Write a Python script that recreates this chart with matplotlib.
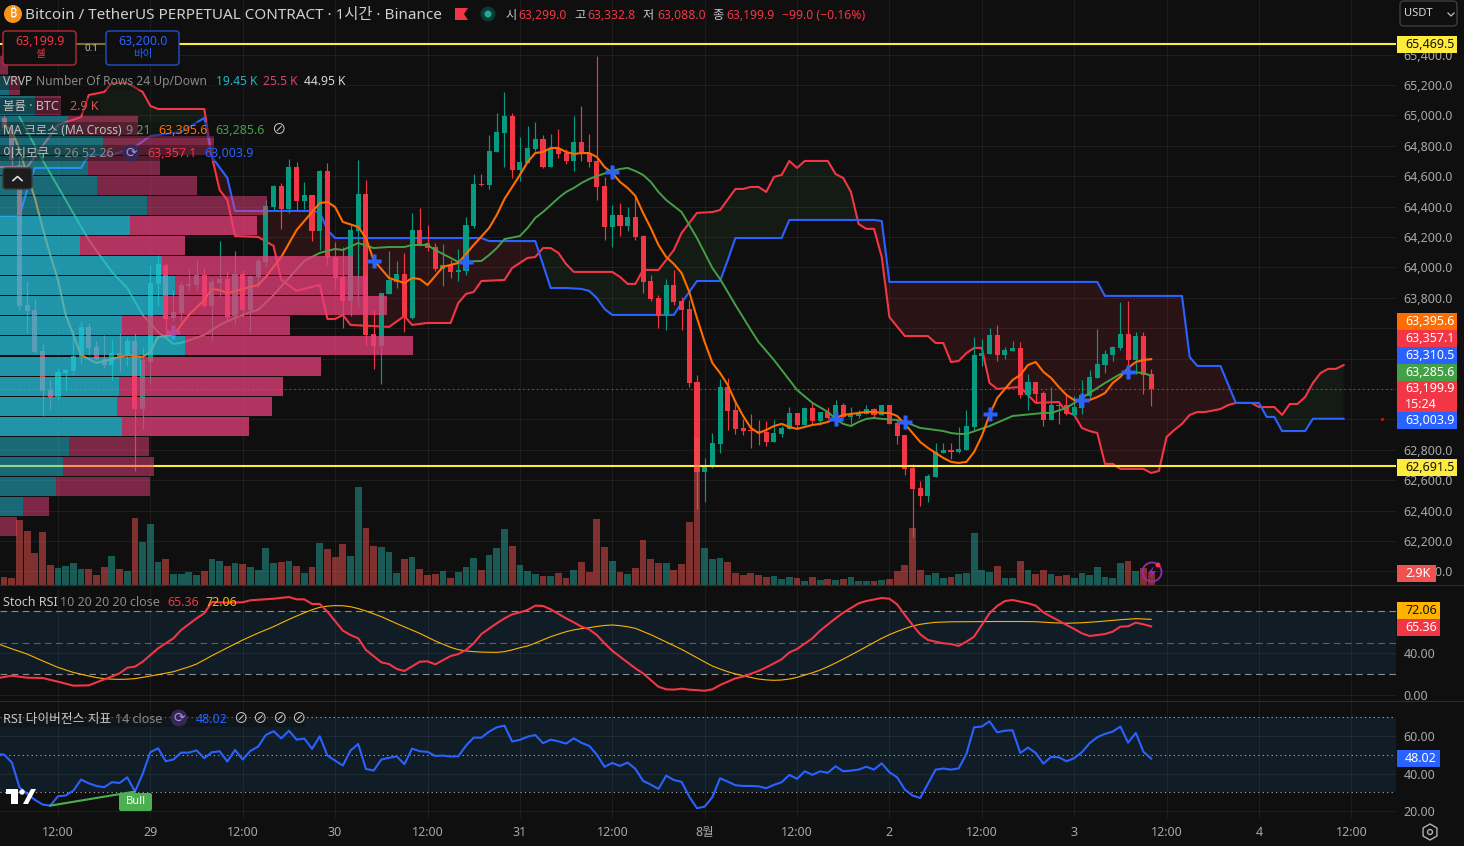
"""Bitcoin perpetual 1h chart with Ichimoku, MA cross, VRVP, Stoch RSI and RSI panes."""

import matplotlib

matplotlib.use("Agg")

import matplotlib.pyplot as plt
import numpy as np
from matplotlib.patches import Circle, FancyBboxPatch, Polygon, Rectangle, RegularPolygon

plt.rcParams["font.family"] = ["Noto Sans", "Noto Sans CJK KR", "DejaVu Sans"]

W, H = 1464, 846
BG = "#0f0f0f"
RED = "#F23645"
GREEN = "#089981"
BLUE = "#2962FF"
ORANGE = "#FF6D00"
LIME = "#43A047"
AMBER = "#FFB300"
YELLOW = "#FFEB3B"
GREY = "#8a8a8a"
TICK = "#a8a8a8"

first_bar = -7
opens = [
    64983, 64904, 64674, 63752, 63720, 63450, 63193, 63147, 63305, 63318,
    63410, 63608, 63476, 63397, 63358, 63436, 63430, 63516, 63068, 63377,
    63890, 64016, 63667, 63700, 63877, 63884, 63950, 63746, 63897, 63923,
    63680, 63956, 63720, 63937, 64035, 64397, 64535, 64384, 64660, 64437,
    64476, 64239, 64634, 64068, 63937, 63779, 64239, 64483, 63562, 63483,
    63825, 63904, 63956, 63667, 64246, 64160, 64134, 63989, 64016, 63970,
    63976, 64272, 64545, 64542, 64759, 64884, 64996, 64641, 64687, 64779,
    64844, 64660, 64779, 64752, 64700, 64825, 64752, 64700, 64535, 64266,
    64345, 64272, 64331, 64206, 63910, 63798, 63680, 63884, 63779, 63726,
    63246, 62654, 62687, 62838, 63213, 63062, 62943, 62930, 62923, 62917,
    62851, 62904, 62937, 63042, 62963, 63075, 62989, 63049, 63009, 63094,
    63016, 63022, 63035, 63068, 63029, 63094, 62976, 62897, 62680, 62548,
    62496, 62621, 62779, 62798, 62785, 62798, 62950, 63417, 63430, 63555,
    63423, 63450, 63470, 63160, 63246, 63173, 62996, 63094, 63094, 63029,
    63075, 63153, 63272, 63358, 63423, 63470, 63562, 63391, 63549, 63299.0,
]
closes = [
    64917, 64706, 63746, 63713, 63443, 63187, 63147, 63312, 63325, 63417,
    63608, 63470, 63397, 63358, 63436, 63417, 63516, 63068, 63391, 63897,
    64022, 63660, 63706, 63884, 63890, 63950, 63746, 63904, 63923, 63673,
    63956, 63720, 63943, 64042, 64404, 64535, 64384, 64660, 64437, 64476,
    64239, 64634, 64068, 63930, 63779, 64246, 64483, 63555, 63483, 63831,
    63917, 63956, 63673, 64246, 64154, 64127, 63989, 64016, 63970, 63983,
    64279, 64549, 64539, 64766, 64891, 64996, 64641, 64693, 64785, 64844,
    64660, 64779, 64746, 64700, 64825, 64746, 64693, 64529, 64266, 64345,
    64272, 64331, 64200, 63904, 63792, 63680, 63884, 63772, 63720, 63239,
    62654, 62693, 62844, 63213, 63055, 62937, 62923, 62923, 62910, 62851,
    62910, 62943, 63042, 62963, 63075, 62989, 63049, 63009, 63094, 63016,
    63029, 63042, 63068, 63029, 63094, 62970, 62891, 62673, 62542, 62496,
    62627, 62785, 62798, 62785, 62805, 62956, 63423, 63436, 63555, 63423,
    63456, 63470, 63160, 63246, 63167, 62996, 63094, 63088, 63035, 63081,
    63160, 63279, 63364, 63430, 63476, 63562, 63391, 63549, 63292, 63199.9,
]
highs = [
    65003, 64937, 64726, 63904, 63792, 63496, 63265, 63338, 63332, 63588,
    63641, 63634, 63516, 63555, 63529, 63568, 63542, 63568, 63470, 64016,
    64081, 64029, 63851, 63904, 63989, 64048, 63996, 63930, 64174, 63976,
    64108, 63983, 63950, 64062, 64443, 64542, 64555, 64713, 64693, 64562,
    64476, 64641, 64687, 64167, 64134, 64279, 64706, 64575, 63720, 63831,
    64108, 64042, 64095, 64358, 64391, 64279, 64160, 64154, 64048, 64121,
    64331, 64615, 64615, 64871, 65016, 65154, 65016, 64858, 64930, 64957,
    64871, 64877, 64910, 64779, 64996, 65062, 64877, 65391, 64594, 64410,
    64423, 64397, 64470, 64213, 63950, 63818, 63923, 63983, 63805, 63785,
    63292, 62746, 62910, 63265, 63272, 63127, 63003, 63035, 62996, 62989,
    62996, 62956, 63081, 63042, 63075, 63114, 63049, 63081, 63127, 63108,
    63081, 63062, 63094, 63075, 63094, 63094, 63003, 62897, 62706, 62594,
    62640, 62844, 62844, 62844, 62950, 63062, 63542, 63529, 63601, 63621,
    63476, 63516, 63509, 63299, 63246, 63187, 63213, 63108, 63160, 63153,
    63259, 63325, 63595, 63456, 63483, 63772, 63779, 63575, 63575, 63332.8,
]
lows = [
    64871, 64641, 63720, 63568, 63436, 63022, 63068, 63127, 63187, 63292,
    63364, 63423, 63391, 63338, 63259, 63318, 63351, 62660, 62937, 63233,
    63746, 63542, 63647, 63647, 63851, 63851, 63739, 63522, 63805, 63654,
    63628, 63673, 63568, 63871, 64003, 64377, 64253, 64357, 64377, 64384,
    64174, 64114, 64016, 63858, 63601, 63680, 63739, 63483, 63332, 63233,
    63825, 63864, 63575, 63660, 64141, 64108, 63976, 63877, 63930, 63910,
    63950, 64259, 64535, 64516, 64759, 64660, 64588, 64568, 64687, 64766,
    64654, 64660, 64720, 64680, 64634, 64700, 64660, 64443, 64180, 64134,
    64207, 64239, 64180, 63831, 63779, 63601, 63588, 63752, 63588, 63213,
    62410, 62456, 62680, 62779, 62930, 62904, 62897, 62812, 62831, 62825,
    62851, 62884, 62937, 62943, 62963, 62970, 62963, 63003, 62996, 63009,
    62963, 63009, 63035, 63009, 63029, 62970, 62838, 62634, 62226, 62430,
    62456, 62621, 62779, 62739, 62779, 62798, 62923, 63351, 63430, 63384,
    63397, 63450, 63140, 63062, 63108, 62956, 62996, 62970, 63029, 63022,
    63035, 63140, 63272, 63305, 63384, 63456, 63338, 63299, 63167, 63088.0,
]
# volume per bar, thousands of BTC
volumes = [
    1.9, 1.7, 15.6, 13.0, 7.7, 12.7, 4.8, 4.1, 4.6, 5.3,
    3.8, 3.8, 2.4, 4.3, 7.0, 3.8, 3.4, 16.1, 10.3, 14.6,
    5.5, 6.2, 2.6, 2.6, 3.1, 2.4, 3.4, 6.2, 5.8, 4.6,
    5.3, 5.0, 4.3, 3.6, 8.9, 5.3, 5.5, 5.8, 4.6, 2.9,
    4.3, 10.1, 8.6, 6.7, 9.8, 7.0, 23.5, 13.7, 9.4, 9.1,
    7.9, 2.9, 6.2, 6.7, 3.8, 2.4, 2.6, 3.4, 1.7, 3.1,
    4.3, 6.5, 3.6, 7.2, 8.9, 13.4, 9.4, 4.8, 3.4, 2.6,
    2.2, 2.2, 2.9, 1.7, 3.6, 5.5, 3.1, 15.8, 9.1, 5.8,
    3.1, 2.6, 4.1, 10.8, 6.2, 5.3, 5.3, 3.6, 5.0, 15.1,
    35.3, 8.9, 6.2, 6.5, 5.5, 2.9, 2.4, 2.9, 2.4, 1.9,
    2.2, 1.4, 1.9, 1.7, 1.0, 1.9, 1.2, 1.4, 1.2, 1.4,
    1.9, 1.0, 1.0, 1.0, 1.2, 1.4, 3.4, 4.8, 13.7, 3.6,
    2.4, 2.9, 1.7, 1.9, 2.6, 2.9, 12.5, 3.6, 3.1, 4.6,
    1.7, 1.7, 5.8, 3.6, 2.6, 3.6, 2.6, 2.2, 2.4, 1.7,
    2.9, 2.4, 4.3, 1.9, 1.7, 5.3, 5.8, 3.4, 4.1, 2.9,
]

ma9_bars = [
    -7, -6, -5, -4, -3, -2, -1, 0, 1, 3, 5, 7, 9, 11, 12, 13, 15, 17, 19, 20, 21, 22, 25, 26, 27,
    29, 31, 34, 35, 36, 37, 39, 40, 41, 43, 45, 46, 47, 48, 50, 52, 54, 56, 57, 58, 59, 60, 61,
    62, 63, 64, 65, 66, 67, 68, 69, 70, 71, 72, 73, 74, 75, 76, 77, 78, 79, 80, 81, 82, 83, 84,
    85, 86, 87, 88, 89, 90, 91, 92, 93, 94, 95, 96, 97, 98, 99, 100, 101, 102, 103, 104, 105,
    106, 107, 108, 109, 110, 111, 112, 113, 114, 115, 116, 117, 118, 119, 120, 121, 122, 123,
    124, 125, 126, 127, 128, 129, 130, 131, 132, 133, 134, 135, 136, 137, 138, 139, 140, 141, 142,
]
ma9_vals = [
    64937, 64904, 64772, 64608, 64456, 64259, 64081, 63917, 63687, 63423, 63371, 63397, 63423,
    63410, 63443, 63542, 63555, 63687, 63785, 63858, 63851, 63831, 63871, 63884, 63937, 64068,
    64246, 64423, 64430, 64397, 64299, 64266, 64193, 64048, 63930, 63897, 63930, 63923, 63884,
    64003, 64029, 64147, 64259, 64345, 64450, 64529, 64608, 64693, 64752, 64759, 64785, 64785,
    64759, 64746, 64752, 64752, 64726, 64660, 64621, 64562, 64522, 64470, 64358, 64259, 64147,
    64068, 64022, 63963, 63838, 63667, 63509, 63371, 63305, 63226, 63114, 63022, 62943, 62910,
    62930, 62956, 62970, 62950, 62937, 62950, 62963, 62970, 62983, 63009, 63029, 63035, 63042,
    63049, 63049, 63042, 63042, 63022, 62970, 62910, 62851, 62812, 62779, 62746, 62720, 62713,
    62720, 62785, 62891, 63029, 63140, 63200, 63259, 63292, 63358, 63377, 63312, 63272, 63213,
    63160, 63127, 63127, 63127, 63147, 63173, 63239, 63279, 63338, 63377, 63391, 63395.6,
]
ma21_bars = [
    -5, -2, 1, 4, 7, 9, 11, 13, 15, 16, 19, 21, 23, 25, 26, 28, 30, 32, 34, 36, 37, 39, 41, 43,
    45, 46, 48, 49, 51, 52, 55, 56, 57, 58, 60, 61, 62, 63, 65, 66, 67, 68, 69, 70, 72, 73, 74,
    75, 76, 77, 78, 79, 81, 82, 83, 85, 86, 87, 88, 90, 91, 93, 96, 98, 100, 101, 102, 103, 104,
    105, 106, 107, 109, 110, 111, 112, 113, 115, 116, 117, 118, 121, 124, 128, 129, 131, 132,
    134, 136, 138, 139, 141, 142,
]
ma21_vals = [
    64989, 64706, 64443, 64180, 63970, 63864, 63687, 63575, 63496, 63503, 63555, 63621, 63667,
    63706, 63720, 63818, 63930, 64042, 64095, 64121, 64114, 64160, 64127, 64134, 64134, 64147,
    64147, 64114, 64062, 64035, 64042, 64081, 64127, 64186, 64206, 64259, 64325, 64364, 64456,
    64496, 64522, 64555, 64581, 64601, 64634, 64647, 64654, 64634, 64608, 64562, 64496, 64443,
    64364, 64279, 64193, 63996, 63923, 63838, 63752, 63588, 63509, 63391, 63193, 63108, 63049,
    63003, 62970, 62956, 62983, 63003, 63009, 63003, 62996, 62983, 62963, 62943, 62937, 62923,
    62910, 62904, 62904, 62956, 63022, 63042, 63042, 63075, 63108, 63173, 63239, 63298, 63312,
    63305, 63285.6,
]
span_a_bars = [
    -8, -4, 0, 3, 4, 6, 7, 9, 11, 12, 13, 19, 20, 21, 22, 23, 26, 28, 29, 31, 34, 35, 36, 37, 38,
    43, 45, 46, 48, 51, 52, 53, 54, 55, 58, 59, 61, 62, 63, 64, 65, 66, 67, 72, 73, 74, 75, 76,
    78, 80, 81, 83, 85, 86, 88, 89, 90, 91, 92, 93, 94, 95, 96, 97, 100, 101, 102, 103, 104, 105,
    106, 107, 108, 110, 113, 114, 115, 116, 117, 118, 119, 120, 121, 122, 125, 126, 127, 130,
    131, 132, 133, 134, 135, 136, 137, 138, 141, 142, 143, 144, 145, 146, 147, 148, 149, 151,
    152, 153, 155, 156, 158, 159, 160, 161, 162, 163, 164, 165, 166, 167,
]
span_a_vals = [
    64660, 64660, 64937, 64989, 65134, 65154, 65213, 65213, 65154, 65062, 65042, 65042, 64726,
    64509, 64443, 64206, 64200, 64141, 63917, 63845, 63884, 63660, 63660, 63687, 63621, 63608,
    63680, 63621, 63634, 63634, 63766, 63825, 63838, 63910, 63917, 63996, 64062, 64068, 64127,
    64127, 64095, 64022, 63970, 63970, 63937, 63891, 63891, 63983, 63983, 64114, 64226, 64358,
    64364, 64377, 64516, 64516, 64529, 64529, 64496, 64595, 64608, 64700, 64654, 64700, 64700,
    64614, 64588, 64496, 64285, 64253, 64253, 64068, 63673, 63548, 63548, 63502, 63502, 63377,
    63384, 63436, 63470, 63470, 63239, 63200, 63213, 63160, 63108, 63114, 63048, 63029, 62943,
    62923, 62910, 62707, 62707, 62674, 62674, 62647, 62660, 62884, 62930, 62970, 63029, 63048,
    63048, 63068, 63094, 63108, 63108, 63081, 63081, 63029, 63101, 63101, 63147, 63239, 63305,
    63332, 63332, 63357.1,
]
span_b_bars = [
    -8, -5, -4, -3, 3, 4, 7, 10, 12, 16, 19, 20, 22, 23, 33, 34, 35, 36, 55, 56, 62, 64, 66, 68,
    69, 70, 71, 72, 80, 81, 83, 86, 87, 88, 94, 95, 106, 107, 108, 135, 136, 146, 147, 148, 151,
    153, 156, 157, 158, 159, 162, 163, 167,
]
span_b_vals = [
    64338, 64338, 64509, 64654, 64654, 64739, 64739, 64792, 64864, 64891, 64983, 64726, 64588,
    64371, 64371, 64364, 64246, 64193, 64193, 64173, 64173, 63864, 63864, 63858, 63845, 63798,
    63726, 63687, 63687, 63766, 63910, 63910, 64048, 64193, 64193, 64312, 64312, 64305, 63904,
    63904, 63812, 63812, 63410, 63351, 63351, 63108, 63108, 63016, 63016, 62923, 62923, 63003.9,
    63003.9,
]
cross_bars = [15, 41, 53, 72, 101, 110, 121, 133, 139]
cross_prices = [63575, 64040, 64035, 64625, 63003, 62983, 63035, 63127, 63312]

# visible range profile, top row first, thousands of BTC
vp_top = 65397
vp_step = 131.8
vp_up = [
    0, 0.08, 0.32, 0.62, 0.93, 0.80, 0.88, 1.33, 1.18, 0.73, 1.47, 1.59,
    1.48, 1.11, 1.68, 1.28, 1.08, 1.06, 1.11, 0.63, 0.57, 0.51, 0.21, 0,
]
vp_down = [
    0.07, 0.10, 0.23, 0.63, 1.01, 0.65, 0.91, 1.09, 1.15, 0.95, 1.73, 1.75,
    2.03, 1.52, 2.07, 1.63, 1.49, 1.41, 1.15, 0.72, 0.83, 0.85, 0.23, 0.15,
]
vp_in_value_area = [
    0, 0, 0, 0, 0, 0, 0, 0, 1, 1, 1, 1,
    1, 1, 1, 1, 1, 1, 1, 0, 0, 0, 0, 0,
]

stoch_k_bars = [
    -8, -6, -4, -2, 0, 2, 4, 6, 8, 9, 10, 11, 13, 15, 16, 18, 19, 20, 22, 24, 25, 28, 30, 31, 32,
    33, 34, 35, 37, 38, 39, 40, 42, 43, 44, 45, 47, 48, 49, 51, 52, 53, 54, 55, 57, 58, 59, 60,
    61, 62, 63, 64, 66, 67, 68, 69, 70, 71, 72, 73, 75, 76, 78, 79, 80, 81, 82, 84, 85, 86, 88,
    89, 91, 92, 94, 95, 96, 98, 99, 101, 102, 104, 105, 107, 108, 109, 110, 111, 112, 113, 114,
    115, 116, 117, 118, 119, 120, 121, 122, 123, 124, 125, 126, 127, 128, 129, 130, 131, 132,
    133, 134, 135, 136, 137, 138, 139, 140, 141, 142,
]
stoch_k_vals = [
    15.9, 18.4, 16.5, 16.2, 12.7, 8.9, 9.2, 14.9, 20.6, 26.0, 27.0, 31.7, 44.4, 54.0, 61.9, 73.0,
    77.8, 88.6, 87.9, 88.3, 90.2, 91.7, 93.3, 91.1, 91.1, 86.7, 86.7, 79.4, 61.3, 57.1, 54.0, 42.9,
    31.1, 29.5, 24.8, 22.9, 31.7, 32.1, 29.2, 37.1, 39.0, 42.9, 49.2, 58.1, 68.3, 73.0, 76.8, 78.7,
    81.0, 85.1, 84.8, 81.6, 73.0, 69.2, 65.1, 62.5, 57.1, 49.2, 42.2, 36.5, 25.4, 20.6, 7.9, 5.4,
    5.1, 6.0, 5.1, 4.1, 5.4, 9.5, 15.9, 17.5, 22.9, 26.3, 34.0, 40.6, 43.8, 54.0, 61.3, 73.0, 78.4,
    87.3, 89.5, 92.4, 91.7, 86.3, 76.2, 66.7, 57.8, 52.4, 50.8, 49.2, 48.6, 46.7, 50.8, 55.6, 66.7,
    77.8, 84.8, 89.5, 90.5, 88.9, 87.3, 85.1, 78.7, 74.6, 70.8, 66.7, 62.9, 58.7, 56.2, 57.1, 58.1,
    60.3, 65.1, 65.4, 68.9, 67.3, 65.36,
]
stoch_d_bars = [
    -8, -6, -4, -2, 0, 2, 4, 5, 6, 7, 8, 9, 10, 12, 13, 15, 17, 18, 20, 22, 24, 26, 28, 30, 31, 32,
    33, 34, 35, 36, 37, 38, 39, 40, 42, 44, 47, 49, 51, 52, 53, 54, 55, 56, 57, 58, 59, 60, 61, 62,
    63, 64, 65, 66, 67, 68, 69, 70, 71, 72, 73, 74, 75, 76, 77, 78, 79, 80, 81, 82, 83, 84, 85, 86,
    87, 88, 89, 90, 91, 92, 93, 94, 95, 96, 97, 98, 99, 100, 101, 102, 103, 104, 105, 106, 107, 108,
    109, 110, 111, 112, 113, 114, 116, 118, 120, 122, 125, 127, 129, 131, 133, 135, 138, 140, 142,
]
stoch_d_vals = [
    49.2, 44.0, 39.0, 32.5, 26.3, 21.5, 18.1, 16.6, 15.6, 15.1, 14.9, 15.1, 15.6, 18.1, 19.4, 22.2,
    26.8, 29.5, 37.5, 45.0, 52.4, 59.0, 65.1, 72.0, 75.2, 78.3, 81.2, 83.5, 84.6, 85.1, 85.0, 84.1,
    82.3, 80.0, 74.6, 68.0, 58.7, 51.5, 45.4, 43.2, 42.0, 41.3, 40.9, 40.7, 40.6, 41.3, 43.0, 45.0,
    46.7, 49.5, 52.5, 55.5, 58.0, 60.3, 62.0, 63.2, 64.1, 65.3, 66.2, 66.7, 66.0, 65.0, 63.5, 60.5,
    57.5, 54.0, 50.5, 47.0, 43.5, 39.5, 35.5, 31.5, 27.6, 24.8, 22.2, 20.1, 18.4, 16.7, 15.2, 14.4,
    14.0, 14.3, 15.2, 16.8, 19.0, 21.2, 23.8, 27.0, 30.5, 34.2, 38.1, 42.0, 46.0, 50.0, 54.0, 57.5,
    60.5, 63.2, 65.7, 67.3, 68.4, 69.2, 69.7, 69.8, 69.9, 70.0, 70.0, 69.8, 68.9, 68.3, 68.8, 69.8,
    71.7, 72.7, 72.06,
]
rsi_first_bar = -8
rsi_vals = [
    50.5, 50.1, 46.0, 32.7, 29.2, 26.0, 23.5, 22.9, 27.9, 28.3, 30.9, 36.8, 34.8, 33.4, 32.7, 35.4,
    35.0, 38.0, 30.4, 39.8, 51.4, 53.5, 46.6, 47.5, 51.2, 51.2, 52.4, 48.2, 51.4, 51.9, 46.4, 52.6,
    47.5, 52.1, 54.4, 60.6, 62.6, 58.8, 62.9, 58.1, 58.7, 53.2, 59.9, 49.6, 46.9, 44.3, 52.3, 55.8,
    42.5, 41.6, 47.5, 48.4, 49.2, 45.0, 53.3, 51.9, 51.6, 49.4, 49.6, 49.1, 49.2, 54.9, 59.2, 59.2,
    62.4, 64.7, 65.6, 57.1, 58.0, 59.7, 60.6, 56.2, 58.1, 57.2, 56.0, 58.8, 56.4, 54.8, 50.1, 43.6,
    45.7, 44.1, 45.9, 42.5, 36.1, 34.1, 31.8, 38.9, 36.6, 35.6, 27.7, 21.5, 22.4, 27.4, 37.5, 35.7,
    33.8, 33.4, 33.4, 33.2, 32.2, 34.0, 35.4, 39.3, 37.2, 41.2, 39.3, 41.2, 40.4, 43.9, 41.2, 41.6,
    42.1, 43.7, 42.1, 45.5, 40.7, 38.0, 31.5, 28.3, 27.0, 34.5, 42.1, 42.7, 42.1, 42.8, 50.5, 64.7,
    65.1, 67.9, 62.0, 62.9, 63.1, 51.0, 53.9, 51.0, 45.3, 48.9, 48.7, 46.6, 48.2, 51.4, 56.2, 59.4,
    61.2, 62.4, 65.1, 56.5, 61.7, 51.6, 48.02,
]

hlines_price = [65469.5, 62691.5]
last_price = 63199.9
price_ticks = [
    62000, 62200, 62400, 62600, 62800, 63000, 63200, 63400, 63600, 63800, 64000,
    64200, 64400, 64600, 64800, 65000, 65200, 65400,
]
# these levels sit fully behind the price tags
price_ticks_hidden = [63000, 63200, 63400]
time_tick_bars = [0, 12, 24, 36, 48, 60, 72, 84, 96, 108, 120, 132, 144, 156, 168]
time_tick_labels = [
    "12:00", "29", "12:00", "30", "12:00", "31", "12:00", "8월", "12:00", "2", "12:00", "3",
    "12:00", "4", "12:00",
]


def pane(top, bottom, right=1396, zorder=1, transparent=False):
    ax = fig.add_axes([0, 1 - bottom / H, right / W, (bottom - top) / H], zorder=zorder)
    ax.set_xlim(-7.53, 173.8)
    ax.patch.set_alpha(0 if transparent else 1)
    ax.patch.set_facecolor(BG)
    for spine in ax.spines.values():
        spine.set_visible(False)
    ax.tick_params(length=0, labelsize=9, labelcolor=TICK)
    return ax


fig = plt.figure(figsize=(W / 100, H / 100), dpi=100, facecolor=BG)
bars = np.arange(first_bar, first_bar + len(closes))
opens_a, closes_a = np.array(opens), np.array(closes)
highs_a, lows_a = np.array(highs), np.array(lows)
up = closes_a >= opens_a
candle_colors = np.where(up, GREEN, RED)

# price pane
ax = pane(0, 585)
ax.set_ylim(61910, 65759)
ax.yaxis.tick_right()
ax.set_yticks(price_ticks, ["" if p in price_ticks_hidden else f"{p:,.1f}" for p in price_ticks])
ax.tick_params(axis="y", pad=5.4)
ax.set_xticks(time_tick_bars, [])
ax.grid(color="#ffffff", alpha=0.06, lw=0.8)
ax.set_axisbelow(True)

fill_x = np.arange(-8, 167.01, 0.1)
span_a_fill = np.interp(fill_x, span_a_bars, span_a_vals)
span_b_fill = np.interp(fill_x, span_b_bars, span_b_vals)
ax.fill_between(fill_x, span_a_fill, span_b_fill, where=span_a_fill >= span_b_fill,
                color="#4CAF50", alpha=0.08, lw=0, zorder=1, interpolate=True)
ax.fill_between(fill_x, span_a_fill, span_b_fill, where=span_a_fill < span_b_fill,
                color=RED, alpha=0.12, lw=0, zorder=1, interpolate=True)
ax.plot(span_a_bars, span_a_vals, color=RED, lw=1.5, zorder=2)
ax.plot(span_b_bars, span_b_vals, color=BLUE, lw=1.5, zorder=2)

ax.vlines(bars, lows_a, highs_a, colors=candle_colors, lw=0.85, zorder=3)
ax.bar(bars, np.maximum(np.abs(closes_a - opens_a), 7), bottom=np.minimum(opens_a, closes_a),
       width=0.66, color=candle_colors, lw=0, zorder=3)

ax.plot(ma21_bars, ma21_vals, color=LIME, lw=1.4, zorder=4)
ax.plot(ma9_bars, ma9_vals, color=ORANGE, lw=1.5, zorder=4)
ax.plot(cross_bars, cross_prices, ls="", marker="P", ms=9.5, mfc=BLUE, mec="none", zorder=4.5)
for price in hlines_price:
    ax.axhline(price, color=YELLOW, lw=1.5, zorder=4.6)
ax.axhline(last_price, color=RED, lw=0.8, ls=(0, (1, 3.2)), zorder=4.6)
ax.plot([172], [63003.9], ls="", marker="o", ms=1.2, color="#e01010", zorder=4.6)

# volume on the same pane
ax_vol = pane(0, 585, zorder=2, transparent=True)
ax_vol.set_ylim(0, 585 * 0.24)
ax_vol.set_yticks([])
ax_vol.set_xticks([])
vol_colors = np.where(up, "#26A69A", "#EF5350")
ax_vol.bar(bars, volumes, width=0.88, color=vol_colors, alpha=0.5, lw=0)

# visible range profile
ax_vp = fig.add_axes([0, 1 - 585 / H, 1396 / W, 585 / H], zorder=3)
ax_vp.patch.set_alpha(0)
ax_vp.axis("off")
ax_vp.set_xlim(0, 1396 / 110.25)
ax_vp.set_ylim(61910, 65759)
vp_y = vp_top - vp_step * (np.arange(len(vp_up)) + 1)
for y, u, d, inside in zip(vp_y, vp_up, vp_down, vp_in_value_area):
    alpha = 0.75 if inside else 0.5
    ax_vp.barh(y, u, height=vp_step * 0.95, align="edge", color="#26C3DE", alpha=alpha, lw=0)
    ax_vp.barh(y, d, left=u, height=vp_step * 0.95, align="edge", color="#E8407B", alpha=alpha, lw=0)

# stoch rsi pane
ax_st = pane(586, 701)
ax_st.set_ylim(-5.7, 103.8)
ax_st.yaxis.tick_right()
ax_st.set_yticks([0, 40], ["0.00", "40.00"])
ax_st.tick_params(axis="y", pad=5.4)
ax_st.set_xticks(time_tick_bars, [])
ax_st.grid(color="#ffffff", alpha=0.06, lw=0.8)
ax_st.set_axisbelow(True)
ax_st.axhspan(20, 80, color="#2196F3", alpha=0.1, lw=0, zorder=0.5)
for level, alpha in ((80, 0.9), (50, 0.55), (20, 0.9)):
    ax_st.axhline(level, color="#9a9a9a", lw=0.8, ls=(0, (6, 4)), alpha=alpha, zorder=1)
ax_st.plot(stoch_d_bars, stoch_d_vals, color=AMBER, lw=0.8, zorder=3)
ax_st.plot(stoch_k_bars, stoch_k_vals, color=RED, lw=1.5, zorder=3)

# rsi pane
ax_rsi = pane(702, 818)
ax_rsi.set_ylim(16.3, 78.2)
ax_rsi.yaxis.tick_right()
ax_rsi.set_yticks([20, 40, 60], ["20.00", "40.00", "60.00"])
ax_rsi.tick_params(axis="y", pad=5.4)
ax_rsi.set_xticks(time_tick_bars, time_tick_labels)
ax_rsi.tick_params(axis="x", pad=6)
ax_rsi.grid(color="#ffffff", alpha=0.06, lw=0.8)
ax_rsi.set_axisbelow(True)
ax_rsi.axhspan(30, 70, color="#2196F3", alpha=0.1, lw=0, zorder=0.5)
for level in (70, 50, 30):
    ax_rsi.axhline(level, color="#b0b0b0", lw=0.8, ls=(0, (1, 3)), zorder=1)
rsi_bars = np.arange(rsi_first_bar, rsi_first_bar + len(rsi_vals))
ax_rsi.plot(rsi_bars, rsi_vals, color=BLUE, lw=1.5, zorder=3)
ax_rsi.plot([-1, 10], [rsi_vals[7], rsi_vals[18]], color="#4CAF50", lw=1.5, zorder=3)

# screen furniture drawn in pixel coordinates
ui = fig.add_axes([0, 0, 1, 1], zorder=10)
ui.patch.set_alpha(0)
ui.axis("off")
ui.set_xlim(0, W)
ui.set_ylim(H, 0)


def label(x, y, s, color="#c8c8c8", size=9, ha="left", **kw):
    ui.text(x, y + 1.5, s, color=color, fontsize=size, ha=ha, va="center", **kw)


def tag(x0, x1, y0, y1, color, s, text_color="white", tx=1405):
    ui.add_patch(Rectangle((x0, y0), x1 - x0, y1 - y0, fc=color, ec="none", zorder=5))
    ui.text(tx, (y0 + y1) / 2, s, color=text_color, fontsize=9, ha="left", va="center", zorder=6)


def box(x0, y0, x1, y1, fc, ec, lw=1.0, radius=3, zorder=3):
    ui.add_patch(FancyBboxPatch((x0, y0), x1 - x0, y1 - y0, boxstyle=f"round,pad=0,rounding_size={radius}",
                                fc=fc, ec=ec, lw=lw, zorder=zorder))


def legend_shade(x1, y0, y1):
    ui.add_patch(Rectangle((0, y0), x1, y1 - y0, fc=BG, ec="none", alpha=0.4, zorder=1))


def sync_icon(x, y):
    ui.add_patch(Circle((x, y), 8.5, fc="#35274f", ec="none", zorder=2))
    ui.text(x, y, "⟳", color="#a98be8", fontsize=10, ha="center", va="center", family="DejaVu Sans", zorder=3)


# header
ui.add_patch(Circle((13, 14), 9, fc="#F7931A", ec="none"))
ui.text(13, 14, "₿", color="white", fontsize=9, fontweight="bold", ha="center", va="center",
        family=["Noto Sans", "Inter", "Roboto", "Open Sans", "Lato", "DejaVu Sans"])
label(25, 13.5, "Bitcoin / TetherUS PERPETUAL CONTRACT · 1시간 · Binance", color="#d0d0d0", size=11)
ui.add_patch(Polygon([(455, 8), (468, 8), (464, 14), (468, 20), (455, 20)], fc="#F23645", ec="none"))
ui.add_patch(Circle((488, 14), 7.5, fc="#0d3b33", ec="none"))
ui.add_patch(Circle((488, 14), 3.5, fc="#22ab94", ec="none"))
for x, s in ((505, "시"), (574, "고"), (643, "저"), (712, "종")):
    label(x, 14, s, color="#c8c8c8", size=8.8)
for x, s in ((518, "63,299.0"), (587, "63,332.8"), (657, "63,088.0"), (726, "63,199.9"), (782, "−99.0 (−0.16%)")):
    label(x, 14, s, color=RED, size=8.8)

# quantity and order buttons
ui.add_patch(Rectangle((76, 38), 31, 20, fc=BG, ec="none", alpha=0.55, zorder=2))
label(91, 47, "0.1", color="#c0c0c0", size=7, ha="center", zorder=3)
box(3, 31, 76, 65, BG, "#b82a38")
box(106, 31, 179, 65, BG, "#2450c8")
label(40, 40, "63,199.9", color=RED, size=9, ha="center", zorder=4)
label(40, 53.5, "셀", color=RED, size=7.5, ha="center", zorder=4)
label(143, 40, "63,200.0", color=BLUE, size=9, ha="center", zorder=4)
label(143, 53.5, "바이", color=BLUE, size=7.5, ha="center", zorder=4)

# indicator legends
legend_shade(345, 74, 90)
label(3, 80, "VRVP", color="#c0c0c0", size=8.7, zorder=4)
label(36, 80, "Number Of Rows 24 Up/Down", color=GREY, size=8.7, zorder=4)
label(216, 80, "19.45 K", color="#26B4C8", size=8.7, zorder=4)
label(263, 80, "25.5 K", color="#D8407A", size=8.7, zorder=4)
label(304, 80, "44.95 K", color="#d8d8d8", size=8.7, zorder=4)
legend_shade(100, 98, 114)
label(3, 105, "볼륨 · BTC", color="#c0c0c0", zorder=4)
label(70, 105, "2.9 K", color="#E05050", zorder=4)
legend_shade(285, 122, 138)
label(3, 129, "MA 크로스 (MA Cross)", color="#c0c0c0", size=8.7, zorder=4)
label(126, 129, "9 21", color=GREY, zorder=4)
label(158, 129, "63,395.6", color=ORANGE, zorder=4)
label(215, 129, "63,285.6", color=LIME, zorder=4)
label(278, 129, "⊘", color="#c8c8c8", size=10.5, ha="center", zorder=4)
legend_shade(255, 145, 161)
label(3, 152, "이치모쿠", color="#c0c0c0", zorder=4)
label(54, 152, "9 26 52 26", color=GREY, zorder=4)
sync_icon(131, 153)
label(147, 152, "63,357.1", color=RED, zorder=4)
label(204, 152, "63,003.9", color=BLUE, zorder=4)
box(3, 168, 32, 189, "#1c1c1c", "#3a3a3a", radius=3)
ui.plot([13, 17.5, 22], [180.5, 176.5, 180.5], color="#e0e0e0", lw=1.2, zorder=4)

label(3, 601, "Stoch RSI", color="#c8c8c8", zorder=4)
label(60, 601, "10 20 20 20 close", color=GREY, zorder=4)
label(167, 601, "65.36", color=RED, zorder=4)
label(206, 601, "72.06", color=AMBER, zorder=4)

legend_shade(305, 711, 727)
label(3, 718, "RSI 다이버전스 지표", color="#c8c8c8", size=9.2, zorder=4)
label(115, 718, "14 close", color=GREY, zorder=4)
sync_icon(179, 718)
label(196, 718, "48.02", color=BLUE, zorder=4)
for x in (240, 259, 279, 298):
    label(x, 718, "⊘", color="#c8c8c8", size=10.5, ha="center", zorder=4)

# pane dividers
ui.plot([0, W], [585.5, 585.5], color="#2e2e2e", lw=0.8, zorder=1)
ui.plot([0, W], [701, 701], color="#2e2e2e", lw=0.8, zorder=1)

# currency selector
box(1400, 1, 1457, 26, "none", "#3f3f3f", radius=4)
label(1404, 12.5, "USDT", color="#d8d8d8", size=8)
ui.plot([1448, 1451, 1454], [13, 16, 13], color="#c0c0c0", lw=0.9)

# price tags
tag(1397, 1457, 36, 53, YELLOW, "65,469.5", "#131313")
tag(1397, 1457, 313, 330, ORANGE, "63,395.6")
tag(1397, 1457, 330, 347, RED, "63,357.1")
tag(1397, 1457, 347, 364, BLUE, "63,310.5")
tag(1397, 1457, 364, 381, LIME, "63,285.6")
tag(1397, 1457, 381, 412, RED, "63,199.9\n15:24")
tag(1397, 1457, 412, 429, BLUE, "63,003.9")
tag(1397, 1457, 459, 476, YELLOW, "62,691.5", "#131313")
tag(1397, 1436, 565, 582, "#EF5350", "2.9K")
tag(1397, 1440, 602, 619, AMBER, "72.06", "#131313")
tag(1397, 1440, 619, 636, RED, "65.36")
tag(1397, 1440, 750, 767, BLUE, "48.02")

# spark icon next to the last bar
ui.add_patch(Circle((1152, 572), 9.5, fc="none", ec="#9C27B0", lw=1.3))
ui.add_patch(Polygon([(1154, 566), (1148, 573), (1152, 573), (1150, 578), (1156, 571), (1152, 571)],
                     fc="#9C27B0", ec="none"))
ui.add_patch(Circle((1158, 565), 2.5, fc=RED, ec="none"))

# chart logo
ui.add_patch(Polygon([(6, 789), (18, 789), (18, 804), (11, 804), (11, 794), (6, 794)], fc="white", ec="none"))
ui.add_patch(Circle((22, 792), 2.7, fc="white", ec="none"))
ui.add_patch(Polygon([(31, 789), (36, 789), (28, 804), (23, 804)], fc="white", ec="none"))

# bull divergence tag
box(119, 793, 152, 811, "#4CAF50", "none", radius=2)
label(135.5, 800.5, "Bull", color="white", size=8, ha="center", zorder=4)

# settings icon
ui.add_patch(RegularPolygon((1430, 832), 6, radius=8, fc="none", ec="#b0b0b0", lw=1.0))
ui.add_patch(Circle((1430, 832), 2.5, fc="none", ec="#b0b0b0", lw=1.0))

fig.savefig("out.png", dpi=100, facecolor=BG)
plt.close(fig)
